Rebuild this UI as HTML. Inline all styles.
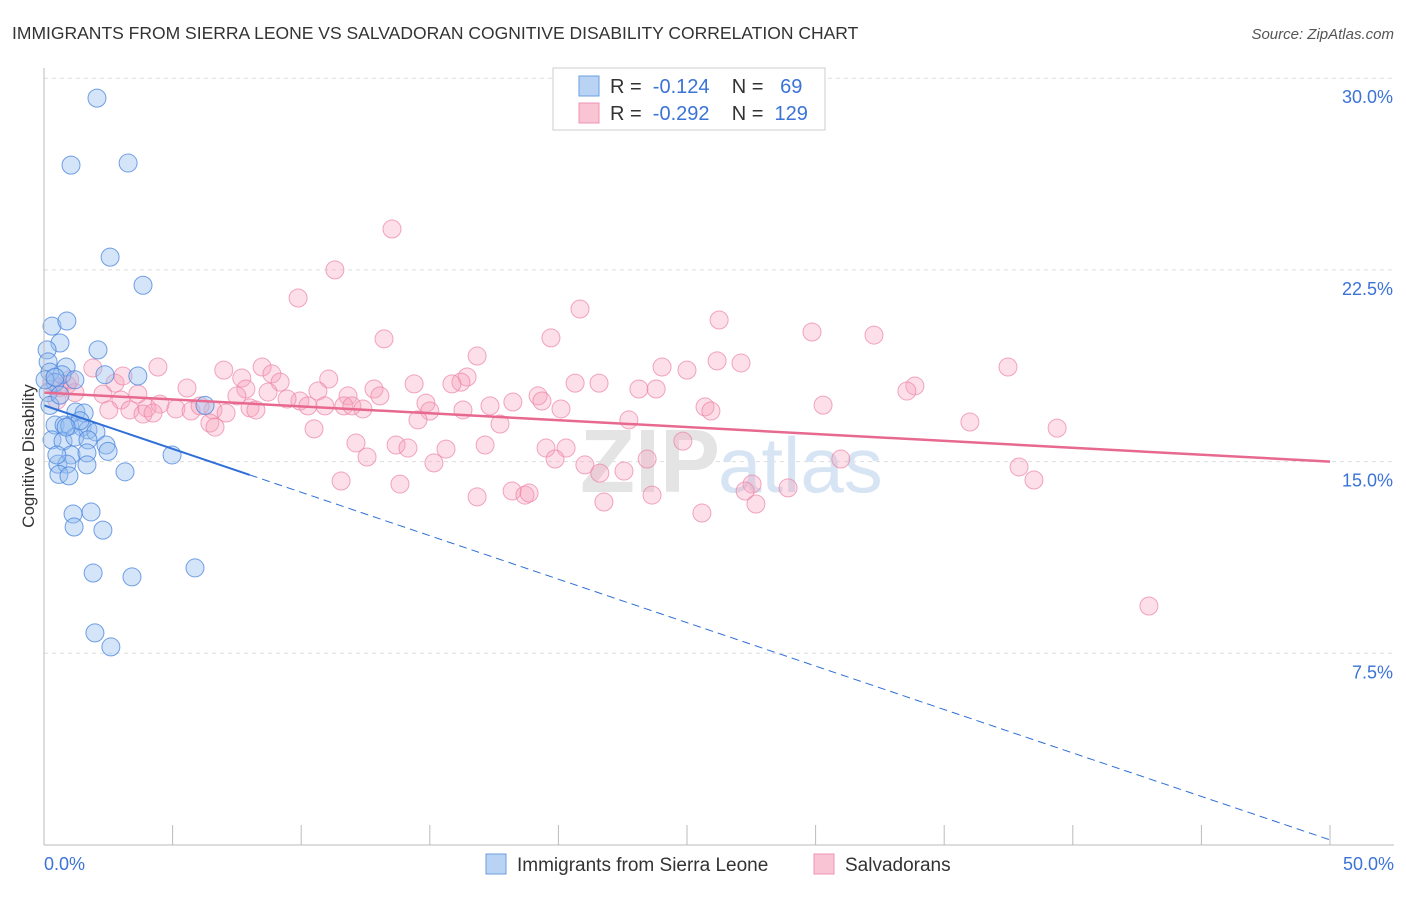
<!DOCTYPE html>
<html><head><meta charset="utf-8"><style>
body{margin:0;background:#fff;font-family:"Liberation Sans",sans-serif}
</style></head><body>
<svg width="1406" height="892" xmlns="http://www.w3.org/2000/svg" font-family="Liberation Sans, sans-serif">
<text x="12" y="39" font-size="17.5" fill="#333">IMMIGRANTS FROM SIERRA LEONE VS SALVADORAN COGNITIVE DISABILITY CORRELATION CHART</text>
<text x="1394" y="39" font-size="15" fill="#555" font-style="italic" text-anchor="end">Source: ZipAtlas.com</text>
<g id="grid"></g>
<text x="720" y="492" font-size="90" fill="#e4e4e4" text-anchor="end" font-weight="bold">ZIP</text>
<text x="718" y="492" font-size="78" fill="#d6e4f3">atlas</text>
<g id="pts"></g>
<g id="lines"></g>
<g id="axes"></g>
<text transform="translate(34,456) rotate(-90)" font-size="17" fill="#333" text-anchor="middle">Cognitive Disability</text>
<g>
<rect x="553" y="68" width="272" height="62" fill="#fff" stroke="#ccc"/>
<rect x="579" y="76" width="20" height="20" fill="#b8d3f3" stroke="#6a9fe0"/>
<rect x="579" y="103" width="20" height="20" fill="#f9c5d5" stroke="#ee94b0"/>
<text x="610" y="93" font-size="20" fill="#333" xml:space="preserve">R =  <tspan fill="#3b73d6">-0.124</tspan>    N =   <tspan fill="#3b73d6">69</tspan></text>
<text x="610" y="120" font-size="20" fill="#333" xml:space="preserve">R =  <tspan fill="#3b73d6">-0.292</tspan>    N =  <tspan fill="#3b73d6">129</tspan></text>
</g>
<g>
<rect x="486" y="854" width="20" height="20" fill="#b8d3f3" stroke="#6a9fe0"/>
<text x="517" y="871" font-size="19" fill="#333">Immigrants from Sierra Leone</text>
<rect x="814" y="854" width="20" height="20" fill="#f9c5d5" stroke="#ee94b0"/>
<text x="845" y="871" font-size="19" fill="#333">Salvadorans</text>
</g>
</svg>
<script>
const yTicks=[7.5,15,22.5,30];
const yTickLabels=["7.5%","15.0%","22.5%","30.0%"];
const xTickVals=[0,5,10,15,20,25,30,35,40,45,50];
const blueX=[2.06,1.05,3.27,2.57,3.85,0.31,0.89,0.62,2.1,0.12,0.16,0.86,0.23,0.7,2.37,3.65,0.43,1.2,0.16,6.26,0.23,1.24,1.56,0.43,0.78,1.0,1.48,1.71,2.02,0.31,0.74,1.2,1.71,2.41,2.49,1.05,1.67,4.98,0.54,0.89,1.67,3.15,0.58,0.97,1.13,1.83,1.17,2.29,1.91,3.42,5.87,1.98,2.6,0.04,0.43,0.62,1.4,0.86,0.5];
const blueY=[29.22,26.6,26.68,23.0,21.9,20.3,20.5,19.64,19.37,19.37,18.9,18.7,18.5,18.4,18.4,18.35,18.1,18.2,17.7,17.2,17.2,16.94,16.9,16.43,16.43,16.4,16.35,16.24,16.16,15.85,15.8,15.96,15.85,15.65,15.4,15.26,15.34,15.26,14.9,14.9,14.87,14.6,14.5,14.44,12.95,13.03,12.44,12.32,10.64,10.49,10.84,8.3,7.75,18.2,18.3,17.6,16.6,16.35,15.26];
const pinkX=[13.53,11.31,9.88,20.84,26.25,29.86,32.27,13.22,19.71,16.84,37.48,4.43,26.17,27.1,24.03,25.0,8.48,6.99,7.69,8.86,11.07,16.45,16.21,15.86,20.65,21.58,14.39,12.83,33.86,33.55,5.56,23.13,23.8,7.85,9.18,1.9,2.76,3.07,2.29,3.65,2.99,10.65,11.82,13.06,18.23,19.21,19.36,17.34,14.85,9.95,9.45,7.5,8.71,8.01,3.34,4.0,4.51,5.13,5.72,6.57,7.08,2.52,3.85,4.24,6.07,8.24,10.92,11.66,11.97,12.4,10.26,15.0,14.54,16.29,20.1,22.74,25.7,25.93,30.29,6.45,6.65,17.73,36.0,39.39,10.5,24.84,17.15,12.13,13.69,14.15,15.63,19.52,20.3,12.56,15.16,19.87,23.45,30.98,21.03,21.61,22.55,37.91,38.49,11.55,13.84,27.53,18.2,18.7,18.86,16.84,23.64,27.26,28.93,21.77,27.68,25.58,42.96,0.3,0.6,0.9,1.2,0.5,1.0];
const pinkY=[24.1,22.5,21.4,20.97,20.54,20.07,19.95,19.8,19.84,19.13,18.7,18.7,18.94,18.86,18.7,18.58,18.7,18.58,18.27,18.43,18.23,18.31,18.11,18.04,18.07,18.07,18.04,17.84,17.96,17.76,17.88,17.84,17.84,17.84,18.11,18.66,18.07,18.35,17.64,17.64,17.41,17.76,17.57,17.57,17.33,17.57,17.37,17.18,17.29,17.37,17.45,17.57,17.72,17.1,17.02,17.1,17.25,17.06,16.98,17.02,16.9,17.02,16.86,16.9,17.18,17.02,17.18,17.18,17.18,17.06,17.18,16.98,16.63,17.02,17.06,16.63,17.14,16.98,17.21,16.51,16.35,16.47,16.55,16.31,16.28,15.8,15.65,15.73,15.65,15.53,15.49,15.53,15.53,15.18,14.95,15.1,15.1,15.1,14.87,14.55,14.63,14.79,14.28,14.24,14.12,14.12,13.85,13.69,13.77,13.62,13.69,13.85,13.97,13.42,13.34,12.99,9.35,18.1,17.9,18.0,17.7,17.4,18.2];
const blueTrend=[17.2,0.2], pinkTrend=[17.7,15.0], blueSolidEnd=8;
const NS="http://www.w3.org/2000/svg";
const sx=v=>44+v*25.72, sy=v=>845-v*25.56;
function mk(t,a,p){const e=document.createElementNS(NS,t);for(const k in a)e.setAttribute(k,a[k]);p.appendChild(e);return e;}
const grid=document.getElementById('grid'),axes=document.getElementById('axes'),pts=document.getElementById('pts'),lines=document.getElementById('lines');
yTicks.forEach((v,i)=>{
 const l=mk('line',{x1:44,x2:1394,y1:sy(v),y2:sy(v),stroke:'#ddd','stroke-dasharray':'4,4'},grid);
 
 
 const t=mk('text',{x:1393,y:sy(v)+25,'font-size':18,fill:'#3b73d6','text-anchor':'end'},axes);
 t.textContent=yTickLabels[i];
 
 
});
mk('line',{x1:44,x2:44,y1:68,y2:845,stroke:'#bbb'},axes);
mk('line',{x1:44,x2:1394,y1:845,y2:845,stroke:'#bbb'},axes);
xTickVals.forEach(v=>{const t=mk('line',{x1:sx(v),x2:sx(v),y1:825,y2:845,stroke:'#bbb'},axes);
 
 });
const x0=mk('text',{x:44,y:870,'font-size':18,fill:'#3b73d6'},axes);x0.textContent='0.0%';


const x1=mk('text',{x:1394,y:870,'font-size':18,fill:'#3b73d6','text-anchor':'end'},axes);x1.textContent='50.0%';


pinkX.forEach((x,i)=>{const c=mk('circle',{cx:sx(x),cy:sy(pinkY[i]),r:9,fill:'rgba(246,164,190,0.35)',stroke:'rgba(236,130,165,0.7)','stroke-width':1},pts);
 
 });
blueX.forEach((x,i)=>{const c=mk('circle',{cx:sx(x),cy:sy(blueY[i]),r:9,fill:'rgba(150,190,240,0.4)',stroke:'rgba(70,130,220,0.75)','stroke-width':1},pts);
 
 });
const by=x=>blueTrend[0]+(blueTrend[1]-blueTrend[0])*x/50;
let l1=mk('line',{x1:sx(0),y1:sy(by(0)),x2:sx(blueSolidEnd),y2:sy(by(blueSolidEnd)),stroke:'#2f6fd6','stroke-width':2},lines);


let l2=mk('line',{x1:sx(blueSolidEnd),y1:sy(by(blueSolidEnd)),x2:sx(50),y2:sy(by(50)),stroke:'#2f6fd6','stroke-width':1,'stroke-dasharray':'8,5'},lines);


let l3=mk('line',{x1:sx(0),y1:sy(pinkTrend[0]),x2:sx(50),y2:sy(pinkTrend[1]),stroke:'#e8698f','stroke-width':2.5},lines);


</script>
</body></html>
